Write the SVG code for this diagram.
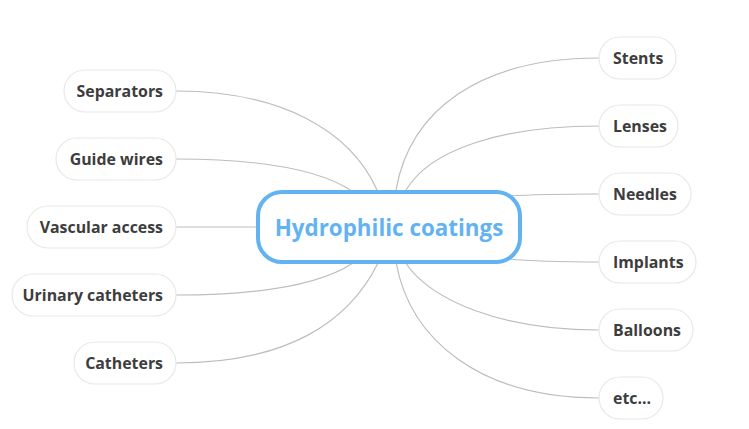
<svg xmlns="http://www.w3.org/2000/svg" width="749" height="429" viewBox="0 0 749 429">
<style>
.bg{fill:#ffffff}
.c path{fill:none;stroke:#bdbdbd;stroke-width:1.2}
.n rect{fill:#ffffff;stroke:#e8e8e8;stroke-width:1.2}
.n text{font-family:"Open Sans","Noto Sans","Liberation Sans",sans-serif;font-weight:bold;font-size:15.9px;fill:#3d3d3d;dominant-baseline:central}
.l text{text-anchor:end}
.r text{text-anchor:start}
#center rect{fill:#ffffff;stroke:#63b3f3;stroke-width:4}
#center text{font-family:"Open Sans","Noto Sans","Liberation Sans",sans-serif;font-weight:bold;font-size:22.4px;fill:#63b3f3;text-anchor:middle;dominant-baseline:central}
</style>
<rect class="bg" width="749" height="429"/>
<g id="connectors" class="c">
<path d="M176,91 C280,91 350,130 377,190"/>
<path d="M176,159 C260,159 320,170 352,191"/>
<path d="M176,227 L258,227"/>
<path d="M176,295 C260,295 320,285 353,263"/>
<path d="M176,363 C290,363 350,320 378,263"/>
<path d="M599,58 C480,58 410,110 396,190"/>
<path d="M599,126 C500,126 430,150 406,190"/>
<path d="M508,196 C540,194 570,194 599,194"/>
<path d="M508,259 C540,262 570,262 599,262"/>
<path d="M599,330 C500,330 430,300 405,262"/>
<path d="M599,398 C480,398 410,340 396,262"/>
</g>
<g id="center"><rect x="258" y="192" width="262" height="70" rx="24"/><text x="389" y="227">Hydrophilic coatings</text></g>
<g id="separators" class="n l"><rect x="64" y="70" width="112" height="42" rx="21"/><text x="163" y="91">Separators</text></g>
<g id="guide-wires" class="n l"><rect x="56" y="138" width="120" height="42" rx="21"/><text x="163" y="159">Guide wires</text></g>
<g id="vascular-access" class="n l"><rect x="27" y="206" width="149" height="42" rx="21"/><text x="163" y="227">Vascular access</text></g>
<g id="urinary-catheters" class="n l"><rect x="12" y="274" width="164" height="42" rx="21"/><text x="163" y="295">Urinary catheters</text></g>
<g id="catheters" class="n l"><rect x="74" y="342" width="102" height="42" rx="21"/><text x="163" y="363">Catheters</text></g>
<g id="stents" class="n r"><rect x="599" y="37" width="77" height="42" rx="21"/><text x="613" y="58">Stents</text></g>
<g id="lenses" class="n r"><rect x="599" y="105" width="79" height="42" rx="21"/><text x="613" y="126">Lenses</text></g>
<g id="needles" class="n r"><rect x="599" y="173" width="92" height="42" rx="21"/><text x="613" y="194">Needles</text></g>
<g id="implants" class="n r"><rect x="599" y="241" width="97" height="42" rx="21"/><text x="613" y="262">Implants</text></g>
<g id="balloons" class="n r"><rect x="599" y="309" width="94" height="42" rx="21"/><text x="613" y="330">Balloons</text></g>
<g id="etc" class="n r"><rect x="599" y="377" width="64" height="42" rx="21"/><text x="613" y="398">etc...</text></g>
</svg>
